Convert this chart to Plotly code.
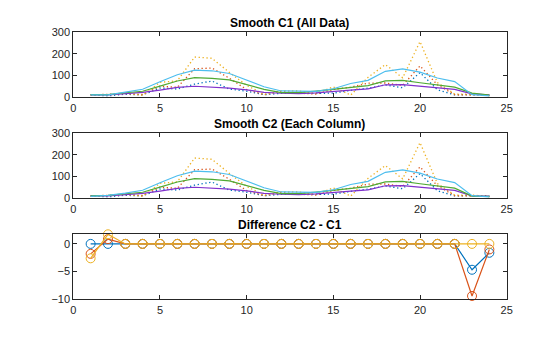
import numpy as np
import plotly.graph_objects as go

# Hourly traffic counts at three intersections
hours = list(range(1, 25))
count_a = [11, 7, 14, 11, 43, 38, 61, 75, 38, 28, 12, 18, 18, 17, 19, 32, 42, 57, 44, 114, 35, 11, 13, 10]
count_b = [11, 13, 17, 13, 51, 46, 132, 135, 88, 36, 12, 27, 19, 15, 36, 47, 65, 66, 55, 145, 58, 12, 9, 9]
count_c = [9, 11, 20, 9, 69, 76, 186, 180, 115, 55, 14, 30, 29, 18, 48, 10, 92, 151, 90, 257, 68, 15, 15, 7]

titles = ["Smooth C1 (All Data)", "Smooth C2 (Each Column)", "Difference C2 - C1"]
x_ticks = [0, 5, 10, 15, 20, 25]
y_ticks_counts = [0, 100, 200, 300]
y_ticks_diff = [-10, -5, 0]

raw_colors = ["#0072BD", "#D95319", "#EDB120"]
smooth_colors = ["#8030CC", "#4FAA34", "#4DBEEE"]
TXT = "#262626"


def smooth(y, span=5):
    """Moving average; the window shrinks symmetrically near the ends."""
    y = np.asarray(y, dtype=float)
    n = len(y)
    half = span // 2
    out = np.empty(n)
    for i in range(n):
        k = min(half, i, n - 1 - i)
        out[i] = y[i - k:i + k + 1].mean()
    return out


cols = [count_a, count_b, count_c]
n = len(hours)
all_smoothed = smooth(np.concatenate(cols))
c1 = [all_smoothed[j * n:(j + 1) * n] for j in range(3)]
c2 = [smooth(c) for c in cols]
diff = [c2[j] - c1[j] for j in range(3)]

fig = go.Figure()

# axis placement in paper coordinates (page is 560 x 337)
W, H = 560, 337
x0, x1 = 73.3 / W, 506.7 / W
boxes = [(32.3, 97.3), (133.3, 198.3), (234.3, 299.3)]
ydoms = [[1 - b / H, 1 - t / H] for t, b in boxes]

for row, smoothed in enumerate([c1, c2]):
    xa = "x" if row == 0 else f"x{row + 1}"
    ya = "y" if row == 0 else f"y{row + 1}"
    for j in range(3):
        fig.add_trace(go.Scatter(x=hours, y=cols[j], mode="lines", xaxis=xa, yaxis=ya,
                                 line=dict(color=raw_colors[j], width=1.3, dash="1.3px,2.6px"),
                                 showlegend=False, hoverinfo="skip"))
    for j in range(3):
        fig.add_trace(go.Scatter(x=hours, y=smoothed[j], mode="lines", xaxis=xa, yaxis=ya,
                                 line=dict(color=smooth_colors[j], width=1.2),
                                 showlegend=False, hoverinfo="skip"))

for j in range(3):
    fig.add_trace(go.Scatter(x=hours, y=diff[j], mode="lines+markers", xaxis="x3", yaxis="y3",
                             line=dict(color=raw_colors[j], width=1.2),
                             marker=dict(symbol="circle-open", size=9, color=raw_colors[j],
                                         line=dict(width=1)),
                             cliponaxis=False, showlegend=False, hoverinfo="skip"))

axis_common = dict(showline=True, linecolor=TXT, linewidth=1, mirror="allticks",
                   ticks="inside", ticklen=4, tickcolor=TXT, showgrid=False, zeroline=False,
                   automargin=False,
                   tickfont=dict(family="Liberation Sans, Arial", size=11, color=TXT))

layout = dict(width=W, height=H, margin=dict(l=0, r=0, t=0, b=0),
              template="none",
              paper_bgcolor="white", plot_bgcolor="white", showlegend=False)

for i in range(3):
    sfx = "" if i == 0 else str(i + 1)
    layout[f"xaxis{sfx}"] = dict(axis_common, domain=[x0, x1], range=[0, 25],
                                 tickvals=x_ticks, anchor=f"y{sfx}")
    if i < 2:
        yrange, yt = [0, 300], y_ticks_counts
    else:
        yrange, yt = [-10, float(max(d.max() for d in diff))], y_ticks_diff
    layout[f"yaxis{sfx}"] = dict(axis_common, domain=ydoms[i], range=yrange,
                                 tickvals=yt, anchor=f"x{sfx}")

fig.update_layout(**layout)

for i, t in enumerate(titles):
    fig.add_annotation(text=f"<b>{t}</b>", xref="paper", yref="paper",
                       x=(x0 + x1) / 2, y=ydoms[i][1], yshift=0,
                       xanchor="center", yanchor="bottom", showarrow=False,
                       font=dict(family="Liberation Sans, Arial", size=12, color="#000000"))

fig.write_html("out.html")
